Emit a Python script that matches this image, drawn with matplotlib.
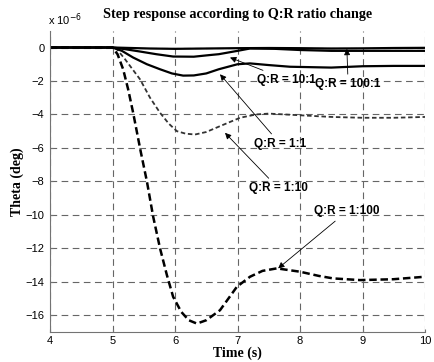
import matplotlib
matplotlib.use("Agg")
import matplotlib.pyplot as plt

# step responses (theta in units of 1e-6 deg)
t_1_100 = [4, 5, 5.08, 5.17, 5.25, 5.33, 5.45, 5.55, 5.65, 5.76, 5.87, 5.97, 6.1, 6.22, 6.35,
           6.5, 6.72, 6.99, 7.2, 7.4, 7.63, 8.0, 8.3, 8.53, 8.96, 9.49, 10]
y_1_100 = [0, 0, -0.4, -1.3, -2.5, -3.9, -6.2, -8.0, -10.1, -12.0, -13.6, -14.9, -15.8, -16.3, -16.5,
           -16.3, -15.7, -14.3, -13.7, -13.35, -13.2, -13.4, -13.65, -13.8, -13.9, -13.85, -13.7]

t_1_10 = [4, 5, 5.07, 5.2, 5.44, 5.6, 5.76, 5.9, 6.03, 6.17, 6.32, 6.5, 6.72, 7.04, 7.3, 7.5,
          8.0, 8.5, 9.0, 9.5, 10]
y_1_10 = [0, 0, -0.1, -0.7, -1.9, -3.0, -3.9, -4.55, -5.0, -5.15, -5.2, -5.05, -4.7, -4.2, -4.0, -3.95,
          -4.05, -4.15, -4.2, -4.2, -4.15]

t_1_1 = [4, 5, 5.15, 5.33, 5.55, 5.76, 5.95, 6.13, 6.3, 6.5, 6.7, 7.0, 7.2, 7.5, 7.84, 8.5, 9.0, 9.5, 10]
y_1_1 = [0, 0, -0.2, -0.6, -1.0, -1.3, -1.55, -1.68, -1.67, -1.55, -1.3, -1.0, -0.95, -1.05, -1.15,
         -1.2, -1.12, -1.1, -1.1]

t_10_1 = [4, 5, 5.2, 5.44, 5.7, 5.97, 6.3, 6.56, 6.7, 7.0, 7.2, 7.6, 8.0, 8.5, 9.0, 10]
y_10_1 = [0, 0, -0.1, -0.24, -0.4, -0.54, -0.55, -0.45, -0.4, -0.2, -0.06, -0.08, -0.15, -0.2, -0.2, -0.2]

t_100_1 = [4, 5, 5.3, 5.6, 6.0, 6.5, 7.0, 7.5, 8.0, 8.5, 9.0, 9.5, 10]
y_100_1 = [0, 0, -0.03, -0.06, -0.08, -0.06, -0.04, -0.03, -0.04, -0.06, -0.05, -0.03, -0.02]

x_ticks = [4, 5, 6, 7, 8, 9, 10]
y_ticks = [0, -2, -4, -6, -8, -10, -12, -14, -16]

# label text position, arrow tip
labels = [
    ("Q:R = 10:1", (7.79, -1.92), (6.88, -0.6)),
    ("Q:R = 100:1", (8.77, -2.2), (8.75, -0.08)),
    ("Q:R = 1:1", (7.68, -5.75), (6.72, -1.6)),
    ("Q:R = 1:10", (7.65, -8.4), (6.8, -5.1)),
    ("Q:R = 1:100", (8.75, -9.8), (7.65, -13.2)),
]

fig = plt.figure(figsize=(4.35, 3.62), dpi=100)
ax = fig.add_axes([0.115, 0.083, 0.862, 0.832])

ax.plot(t_1_100, y_1_100, color="black", lw=1.8, ls=(0, (3, 1.5)))
ax.plot(t_1_10, y_1_10, color="0.2", lw=1.3, ls=(0, (2.5, 1.5)))
ax.plot(t_1_1, y_1_1, color="black", lw=1.6)
ax.plot(t_10_1, y_10_1, color="black", lw=1.6)
ax.plot(t_100_1, y_100_1, color="black", lw=1.6)

ax.set_xlim(4, 10)
ax.set_ylim(-17, 1)
ax.set_xticks(x_ticks)
ax.set_yticks(y_ticks)
ax.grid(True, color="0.4", lw=0.8, ls=(0, (6, 4)))
for side in ["top", "right"]:
    ax.spines[side].set_visible(False)
for side in ["left", "bottom"]:
    ax.spines[side].set_color("0.45")
ax.tick_params(direction="in", length=2, labelsize=8, pad=3, colors="0.45", labelcolor="black")
ax.tick_params(axis="y", pad=4)
for lab in ax.get_xticklabels() + ax.get_yticklabels():
    lab.set_family("Liberation Sans")

for txt, xytext, xy in labels:
    ax.annotate(txt, xy=xy, xytext=xytext, ha="center", va="center",
                fontsize=8.5, fontweight="bold", family="Liberation Sans",
                arrowprops=dict(arrowstyle="-|>", color="black", lw=0.6,
                                mutation_scale=9, shrinkA=1, shrinkB=0))

ax.text(-0.005, 1.01, r"x 10$^{-6}$", transform=ax.transAxes, fontsize=8,
        family="Liberation Sans", ha="left", va="bottom")
ax.set_title("Step response according to Q:R ratio change", fontsize=10.2,
             fontweight="bold", family="Liberation Serif", pad=9)
ax.set_xlabel("Time (s)", fontsize=10, fontweight="bold", family="Liberation Serif", labelpad=0)
ax.set_ylabel("Theta (deg)", fontsize=10, fontweight="bold", family="Liberation Serif", labelpad=1)

fig.savefig("out.png", dpi=100)
